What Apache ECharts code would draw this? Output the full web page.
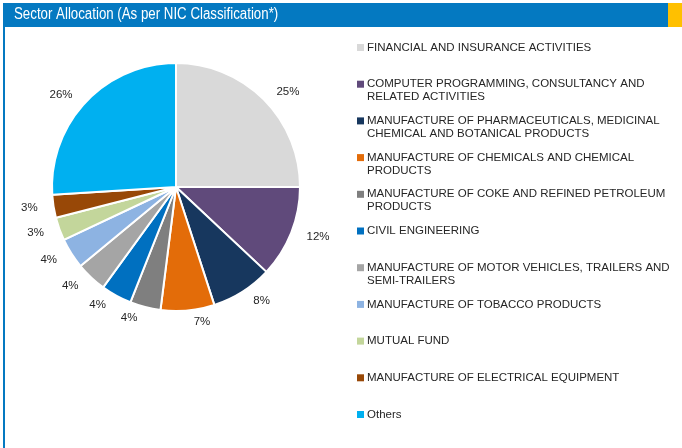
<!DOCTYPE html>
<html>
<head>
    <meta charset="utf-8">
    <title>Sector Allocation</title>
    <script src="https://cdn.jsdelivr.net/npm/echarts@6/dist/echarts.min.js"></script>
    <style>
        html, body { margin: 0; padding: 0; background: #fff; }
        #pie { width: 682px; height: 448px; }
    </style>
</head>
<body>
    <div id="pie"></div>
    <script type="text/javascript">
        // 数据
        var categories = [
            'FINANCIAL AND INSURANCE ACTIVITIES',
            'COMPUTER PROGRAMMING, CONSULTANCY AND\nRELATED ACTIVITIES',
            'MANUFACTURE OF PHARMACEUTICALS, MEDICINAL\nCHEMICAL AND BOTANICAL PRODUCTS',
            'MANUFACTURE OF CHEMICALS AND CHEMICAL\nPRODUCTS',
            'MANUFACTURE OF COKE AND REFINED PETROLEUM\nPRODUCTS',
            'CIVIL ENGINEERING',
            'MANUFACTURE OF MOTOR VEHICLES, TRAILERS AND\nSEMI-TRAILERS',
            'MANUFACTURE OF TOBACCO PRODUCTS',
            'MUTUAL FUND',
            'MANUFACTURE OF ELECTRICAL EQUIPMENT',
            'Others'
        ];
        var values = [25, 12, 8, 7, 4, 4, 4, 4, 3, 3, 26];
        var colors = ['#d9d9d9', '#604a7b', '#17375e', '#e36c09', '#7f7f7f', '#0070c0',
                      '#a5a5a5', '#8db3e2', '#c3d69b', '#984807', '#00b0f0'];

        var pieData = [];
        var rich = {
            t: { fontSize: 11.5, color: '#262626', fontFamily: 'Liberation Sans, Arial', lineHeight: 13, padding: [0, 0, 0, 3] },
            p: { width: 7, height: 7, lineHeight: 13 }
        };
        for (var i = 0; i < categories.length; i++) {
            pieData.push({ name: categories[i], value: values[i], itemStyle: { color: colors[i] } });
            rich['s' + i] = { width: 7, height: 7, lineHeight: 13, backgroundColor: colors[i] };
        }

        var myChart = echarts.init(document.getElementById('pie'));
        myChart.setOption({
            animation: false,
            graphic: [
                { type: 'rect', shape: { x: 3, y: 3, width: 665, height: 24 }, style: { fill: '#0479c1' } },
                { type: 'rect', shape: { x: 668, y: 3, width: 14, height: 24 }, style: { fill: '#ffc000' } },
                { type: 'rect', shape: { x: 3, y: 27, width: 2, height: 421 }, style: { fill: '#0479c1' } },
                // 标题 (横向压缩, 窄字体)
                {
                    type: 'text', x: 14, y: 15, scaleX: 0.83,
                    style: {
                        text: 'Sector Allocation (As per NIC Classification*)',
                        fill: '#fff',
                        font: '16px "Liberation Sans", Arial, sans-serif',
                        verticalAlign: 'middle'
                    }
                }
            ],
            legend: {
                orient: 'vertical',
                left: 346,
                top: 36.5,
                itemWidth: 0,
                itemHeight: 0,
                itemGap: 11.7,
                selectedMode: false,
                data: categories,
                formatter: function (name) {
                    var i = categories.indexOf(name);
                    var lines = name.split('\n');
                    return '{s' + i + '| }{t|' + lines[0] + '}\n{p| }{t|' + (lines[1] || ' ') + '}';
                },
                textStyle: { rich: rich }
            },
            series: [{
                type: 'pie',
                center: [176, 187],
                radius: 124,
                startAngle: 90,
                clockwise: true,
                avoidLabelOverlap: false,
                data: pieData,
                itemStyle: { borderColor: '#fff', borderWidth: 2 },
                label: {
                    position: 'outside',
                    formatter: '{c}%',
                    fontSize: 11.5,
                    color: '#262626',
                    fontFamily: 'Liberation Sans, Arial'
                },
                labelLine: { show: false, length: 11, length2: 0 },
                emphasis: { disabled: true }
            }]
        });
    </script>
</body>
</html>
